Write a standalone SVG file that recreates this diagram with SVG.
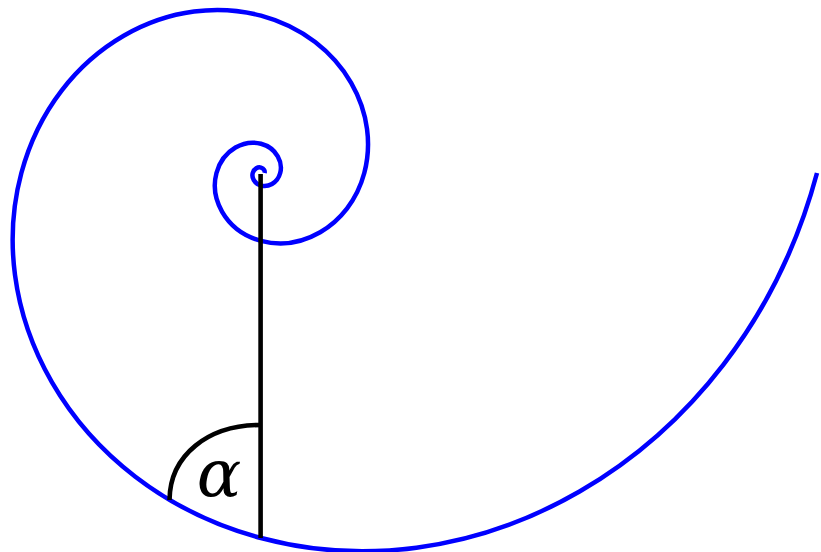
<svg xmlns="http://www.w3.org/2000/svg" width="821" height="552" viewBox="0 0 821 552">
<style>
.spiral{fill:none;stroke:#0000ff;stroke-width:4.5;stroke-linejoin:round}
.ink{fill:none;stroke:#000;stroke-width:4.6}
.lbl{font-family:"DejaVu Serif","Liberation Serif",serif;font-style:italic;font-size:66px;fill:#000}
</style>
<rect width="821" height="552" fill="#fff"/>
<g id="spiral">
<path class="spiral" d="M817,173 C777.50,320.46 686.67,429.70 579.55,491.55 C472.43,553.40 357.81,563.95 261,538.02 C164.19,512.09 92.47,452.46 51.87,382.13 C11.26,311.81 4.33,236.56 21.36,173 C38.39,109.44 77.53,62.36 123.70,35.70 C169.87,9.04 219.27,4.49 261,15.67 C302.73,26.85 333.64,52.54 351.14,82.86 C368.64,113.17 371.63,145.61 364.29,173 C356.95,200.39 340.08,220.69 320.18,232.18 C300.28,243.67 278.98,245.63 261,240.81 C243.02,235.99 229.70,224.91 222.15,211.85 C214.61,198.78 213.32,184.81 216.48,173 C219.64,161.19 226.92,152.45 235.49,147.49 C244.07,142.54 253.25,141.69 261,143.77 C268.75,145.85 274.49,150.62 277.74,156.26 C281.00,161.89 281.55,167.91 280.19,173 C278.83,178.09 275.69,181.86 272.00,184.00 C268.30,186.13 264.34,186.50 261,185.60 C257.66,184.70 255.18,182.65 253.78,180.22 C252.38,177.79 252.14,175.19 252.73,173 C253.32,170.81 254.67,169.18 256.26,168.26 C257.86,167.34 259.56,167.18 261,167.57 C262.44,167.96 263.51,168.84 264.11,169.89 C264.72,170.93 264.81,172.06 264.56,173"/>
</g>
<g id="radius">
<line class="ink" x1="260.6" y1="174" x2="260.6" y2="538"/>
</g>
<g id="angle">
<path class="ink" d="M260.6,425 C208,425 170,455 169.5,500"/>
<text class="lbl" x="219" y="496" text-anchor="middle">α</text>
</g>
</svg>
